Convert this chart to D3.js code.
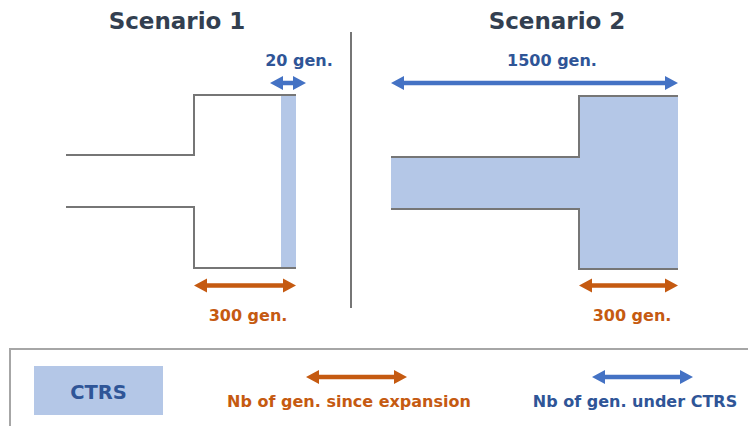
<!DOCTYPE html>
<html>
<head>
<meta charset="utf-8">
<script src="https://d3js.org/d3.v7.min.js"></script>
<style>
  body { margin: 0; background: #fff; }
  text { font-family: "DejaVu Sans", Verdana, sans-serif; font-weight: bold; }
</style>
</head>
<body>
<div id="chart"></div>
<script>
// data
var scenarios = ["Scenario 1", "Scenario 2"];
var ctrsGen = [20, 1500];        // generations under CTRS
var expansionGen = [300, 300];   // generations since expansion
var legendLabels = ["CTRS", "Nb of gen. since expansion", "Nb of gen. under CTRS"];

var width = 748, height = 426;
var blue = "#4472c4", blueText = "#2f5597", orange = "#c55a11",
    fillBlue = "#b4c7e7", grey = "#767676", titleCol = "#333f50";

var svg = d3.select("#chart").append("svg")
  .attr("width", width).attr("height", height);

// each scenario panel: x positions for stem start, step, present
var panels = [
  {x0: 66, step: 194, end: 296, ctrsStart: 281},
  {x0: 391, step: 579, end: 678, ctrsStart: 391}
];
var y = d3.scaleLinear().domain([0, 1]).range([95, 268]); // top to bottom of expanded pop
var stemTop = [155, 157], stemBot = [207, 209];

// double headed arrow
function arrow(g, x1, x2, yy, col) {
  var h = 13, w = 7, t = 2.2;
  var p = d3.path();
  p.moveTo(x1, yy);
  p.lineTo(x1 + h, yy - w);
  p.lineTo(x1 + h, yy - t);
  p.lineTo(x2 - h, yy - t);
  p.lineTo(x2 - h, yy - w);
  p.lineTo(x2, yy);
  p.lineTo(x2 - h, yy + w);
  p.lineTo(x2 - h, yy + t);
  p.lineTo(x1 + h, yy + t);
  p.lineTo(x1 + h, yy + w);
  p.closePath();
  g.append("path").attr("d", p.toString()).attr("fill", col);
}

var titleX = [177, 557];

scenarios.forEach(function(name, i) {
  var P = panels[i];
  var g = svg.append("g");
  var yt = y(0), yb = y(1);
  if (i === 1) yt = 96, yb = 269;

  // CTRS area
  if (i === 0) {
    g.append("rect").attr("x", P.ctrsStart).attr("y", yt)
      .attr("width", P.end - P.ctrsStart).attr("height", yb - yt).attr("fill", fillBlue);
  } else {
    var a = d3.path();
    a.moveTo(P.x0, stemTop[i]); a.lineTo(P.step, stemTop[i]); a.lineTo(P.step, yt);
    a.lineTo(P.end, yt); a.lineTo(P.end, yb); a.lineTo(P.step, yb);
    a.lineTo(P.step, stemBot[i]); a.lineTo(P.x0, stemBot[i]); a.closePath();
    g.append("path").attr("d", a.toString()).attr("fill", fillBlue);
  }

  // population outline
  var line = d3.line();
  g.append("path").attr("d", line([[P.x0, stemTop[i]], [P.step, stemTop[i]], [P.step, yt], [P.end, yt]]))
    .attr("fill", "none").attr("stroke", grey).attr("stroke-width", 2);
  g.append("path").attr("d", line([[P.x0, stemBot[i]], [P.step, stemBot[i]], [P.step, yb], [P.end, yb]]))
    .attr("fill", "none").attr("stroke", grey).attr("stroke-width", 2);

  // title
  g.append("text").attr("x", titleX[i]).attr("y", 29).attr("text-anchor", "middle")
    .attr("font-size", 23).attr("fill", titleCol).text(name);

  // CTRS arrow
  var cx1 = i === 0 ? 270 : P.x0, cx2 = i === 0 ? 306 : P.end;
  arrow(g, cx1, cx2, 83, blue);
  g.append("text").attr("x", i === 0 ? 299 : 552).attr("y", 66).attr("text-anchor", "middle")
    .attr("font-size", 16).attr("fill", blueText).text(ctrsGen[i] + " gen.");

  // expansion arrow
  arrow(g, P.step, P.end, 285.5, orange);
  g.append("text").attr("x", i === 0 ? 248 : 632).attr("y", 321).attr("text-anchor", "middle")
    .attr("font-size", 16).attr("fill", orange).text(expansionGen[i] + " gen.");
});

// divider
svg.append("line").attr("x1", 351).attr("x2", 351).attr("y1", 32).attr("y2", 308)
  .attr("stroke", grey).attr("stroke-width", 2);

// legend
var lg = svg.append("g");
lg.append("rect").attr("x", 10).attr("y", 349).attr("width", 760).attr("height", 100)
  .attr("fill", "none").attr("stroke", "#a6a6a6").attr("stroke-width", 2);
lg.append("rect").attr("x", 34).attr("y", 366).attr("width", 129).attr("height", 49).attr("fill", fillBlue);
lg.append("text").attr("x", 98.5).attr("y", 399).attr("text-anchor", "middle")
  .attr("font-size", 19.5).attr("fill", blueText).text(legendLabels[0]);
arrow(lg, 306, 407, 377, orange);
lg.append("text").attr("x", 349).attr("y", 407).attr("text-anchor", "middle")
  .attr("font-size", 16).attr("fill", orange).text(legendLabels[1]);
arrow(lg, 592, 693, 377, blue);
lg.append("text").attr("x", 635).attr("y", 407).attr("text-anchor", "middle")
  .attr("font-size", 16).attr("fill", blueText).text(legendLabels[2]);
</script>
</body>
</html>
